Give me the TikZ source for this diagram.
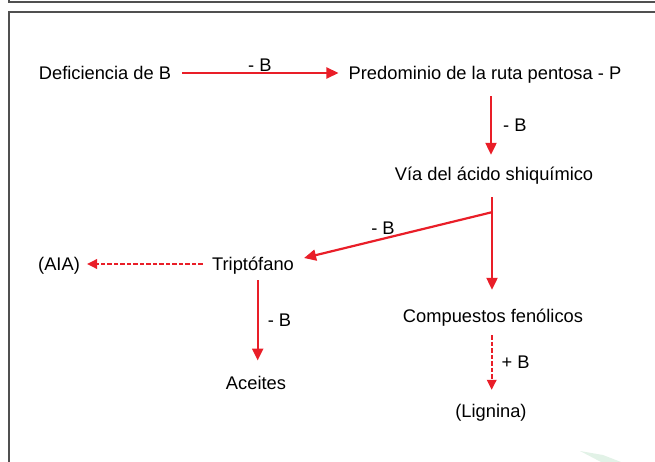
\documentclass[tikz,border=0pt]{standalone}
\usepackage{fontspec}
\setmainfont{Liberation Sans}
\usetikzlibrary{arrows.meta}
\definecolor{arrred}{RGB}{233,30,40}
\definecolor{framegray}{RGB}{80,80,80}
\definecolor{wmgreen}{RGB}{226,242,231}
\begin{document}
\begin{tikzpicture}[x=1pt,y=-1pt,
  txt/.style={inner sep=0pt,text height=13.2pt,text depth=0pt,anchor=base,font=\fontsize{18.3}{20}\selectfont},
  lbl/.style={inner sep=0pt,font=\fontsize{18.3}{20}\selectfont},
  redarr/.style={draw=arrred,line width=2.2pt,-{Triangle[length=12pt,width=11pt]}},
  dasharr/.style={draw=arrred,line width=2pt,dash pattern=on 4.5pt off 2pt,-{Triangle[length=10pt,width=9.5pt]}},
  frame/.style={draw=framegray,line width=1.6pt}]
\useasboundingbox (0,0) rectangle (655,462);
% frame
\draw[frame] (9,0) -- (9,2) -- (660,2);
\draw[frame] (660,12) -- (9,12) -- (9,470);
\fill[wmgreen] (580,451) -- (603,455) -- (621,462) -- (601,462) -- cycle;
% nodes
\node[txt] (def) at (105,79.6) {Deficiencia de B};
\node[txt] (pred) at (485,79.6) {Predominio de la ruta pentosa - P};
\node[txt] (via) at (494,180.6) {Vía del ácido shiquímico};
\node[txt] (trip) at (253,270.6) {Triptófano};
\node[txt] (aia) at (59,270.6) {(AIA)};
\node[txt] (comp) at (493,322.6) {Compuestos fenólicos};
\node[txt] (ace) at (256,389.6) {Aceites};
\node[txt] (lig) at (491,417.6) {(Lignina)};
% connectors
\draw[redarr,shorten <=11pt,shorten >=10pt] (def.east) -- (pred.west)
  node[lbl,midway,yshift=8pt] {- B};
\draw[redarr] ([shift={(6,16.4)}]pred.south) -- ([shift={(-3,-12.4)}]via.north)
  node[lbl,midway,anchor=west,xshift=11pt] {- B};
\coordinate (br) at ([shift={(-2,31.4)}]via.south);
\draw[redarr] ([shift={(-2,16.4)}]via.south) -- ([shift={(-1,-19.4)}]comp.north);
\draw[redarr] (br) -- ([shift={(10,-6)}]trip.east)
  node[lbl,pos=0.58,yshift=10.7pt] {- B};
\draw[dasharr,shorten <=9.4pt,shorten >=7pt] (trip.west) -- (aia.east);
\draw[redarr] ([shift={(4.7,9.4)}]trip.south) -- ([shift={(1.7,-15.7)}]ace.north)
  node[lbl,midway,anchor=west,xshift=9pt] {- B};
\draw[dasharr] ([shift={(-1.3,12.4)}]comp.south) -- ([shift={(0.7,-14.4)}]lig.north)
  node[lbl,midway,anchor=west,xshift=9pt] {+ B};
\end{tikzpicture}
\end{document}
